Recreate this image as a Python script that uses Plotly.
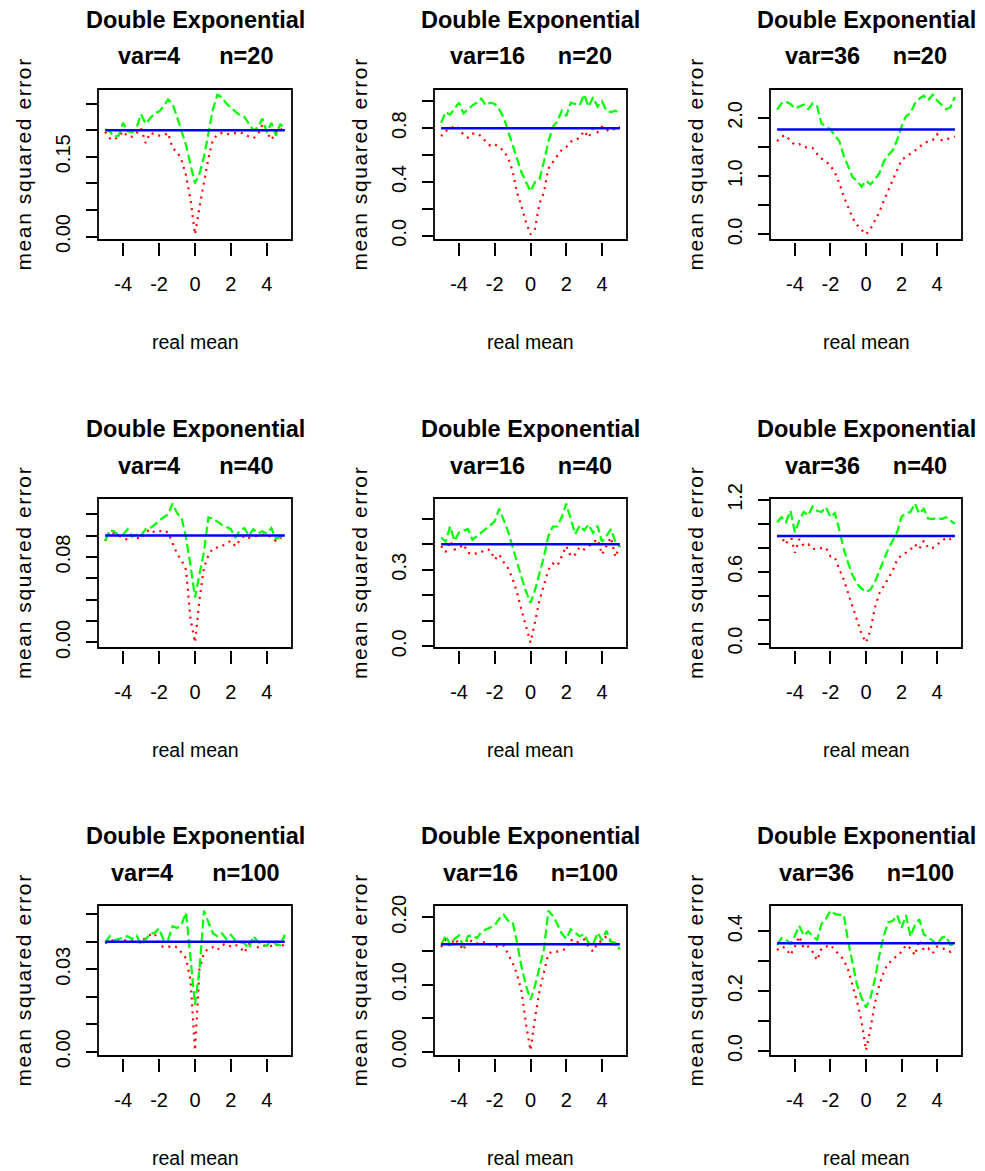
import plotly.graph_objects as go

# ---------------- data ----------------
MEAN_GRID = [-5.0, -4.75, -4.5, -4.25, -4.0, -3.75, -3.5, -3.25, -3.0, -2.75,
             -2.5, -2.25, -2.0, -1.75, -1.5, -1.25, -1.0, -0.75, -0.5, -0.25,
             0.0, 0.25, 0.5, 0.75, 1.0, 1.25, 1.5, 1.75, 2.0, 2.25,
             2.5, 2.75, 3.0, 3.25, 3.5, 3.75, 4.0, 4.25, 4.5, 4.75, 5.0]
VARIANCES = [4, 16, 36]
SAMPLE_SIZES = [20, 40, 100]
X_TICKS = [-4, -2, 0, 2, 4]
X_TICK_LABELS = ["-4", "-2", "0", "2", "4"]

green_v4_n20 = [.202, .198, .188, .190, .214, .198, .196, .205, .230, .212, .222, .232, .235, .245, .258, .250, .225, .200, .172, .135,
                .100, .118, .150, .195, .240, .267, .262, .250, .242, .235, .228, .225, .212, .200, .205, .222, .196, .214, .190, .212, .200]
red_v4_n20 = [.197, .185, .182, .188, .198, .188, .188, .195, .204, .176, .195, .192, .190, .190, .195, .166, .160, .144, .115, .070,
              .004, .055, .100, .148, .182, .192, .195, .193, .192, .195, .196, .193, .188, .185, .192, .210, .195, .182, .196, .204, .195]

green_v16_n20 = [.84, .92, .90, .95, .99, .91, .94, .97, .99, 1.02, .97, .99, .98, .94, .88, .78, .68, .57, .47, .40,
                 .33, .40, .42, .55, .70, .81, .85, .93, .89, .99, .98, .97, 1.05, .96, 1.03, .96, 1.00, .93, .92, .93, .91]
red_v16_n20 = [.74, .78, .79, .82, .80, .75, .73, .76, .76, .74, .70, .67, .68, .66, .63, .58, .48, .32, .22, .10,
               .01, .05, .24, .32, .50, .55, .60, .64, .66, .70, .71, .73, .78, .73, .80, .77, .81, .78, .80, .79, .81]

green_v36_n20 = [2.14, 2.25, 2.28, 2.24, 2.16, 2.20, 2.23, 2.15, 2.25, 2.20, 1.90, 1.86, 1.80, 1.70, 1.60, 1.35, 1.15, .98, .92, .82,
                 .92, .86, .94, 1.05, 1.25, 1.36, 1.44, 1.62, 1.85, 2.03, 2.08, 2.25, 2.33, 2.38, 2.30, 2.40, 2.30, 2.22, 2.15, 2.18, 2.36]
red_v36_n20 = [1.60, 1.68, 1.70, 1.60, 1.54, 1.55, 1.50, 1.49, 1.48, 1.38, 1.30, 1.25, 1.18, 1.06, .88, .65, .45, .28, .16, .07,
               .00, .09, .23, .38, .58, .76, .94, 1.10, 1.28, 1.33, 1.38, 1.44, 1.50, 1.56, 1.60, 1.62, 1.72, 1.62, 1.62, 1.66, 1.68]

green_v4_n40 = [.095, .105, .104, .100, .101, .106, .099, .101, .100, .106, .107, .110, .114, .117, .120, .130, .121, .117, .098, .072,
                .042, .064, .085, .117, .116, .113, .110, .108, .106, .098, .105, .107, .100, .106, .102, .104, .102, .107, .097, .099, .101]
red_v4_n40 = [.095, .104, .102, .100, .098, .096, .100, .098, .097, .103, .106, .103, .104, .105, .103, .093, .083, .077, .068, .022,
              .000, .040, .070, .082, .088, .089, .090, .093, .095, .090, .096, .100, .098, .099, .100, .101, .100, .099, .095, .098, .099]

green_v16_n40 = [.427, .410, .470, .413, .447, .455, .460, .418, .433, .445, .460, .478, .490, .540, .493, .450, .390, .325, .270, .215,
                 .170, .220, .285, .350, .433, .470, .470, .507, .560, .495, .440, .473, .455, .478, .445, .473, .410, .433, .460, .410, .390]
red_v16_n40 = [.393, .370, .413, .380, .385, .400, .367, .360, .365, .370, .380, .378, .340, .360, .330, .305, .265, .210, .140, .075,
               .015, .095, .180, .240, .300, .325, .316, .353, .393, .353, .360, .390, .380, .393, .405, .420, .360, .393, .427, .350, .395]

green_v36_n40 = [1.014, 1.056, 1.014, 1.110, .930, 1.030, 1.100, 1.070, 1.146, 1.110, 1.100, 1.140, 1.056, 1.090, .950, .790, .670, .570, .500, .460,
                 .430, .450, .515, .600, .700, .790, .860, .930, 1.060, 1.090, 1.100, 1.170, 1.085, 1.127, 1.045, 1.040, 1.050, 1.040, 1.056, 1.030, 1.000]
red_v36_n40 = [.900, .887, .830, .915, .760, .873, .817, .830, .790, .795, .800, .800, .730, .720, .620, .535, .420, .300, .200, .080,
               .010, .110, .300, .420, .480, .540, .610, .700, .740, .760, .785, .830, .790, .860, .800, .800, .830, .850, .887, .873, .893]

green_v4_n100 = [.0396, .0420, .0405, .0410, .0415, .0420, .0410, .0422, .0388, .0410, .0428, .0432, .0448, .0406, .0406, .0456, .0450, .0462, .0506, .0340,
                 .0170, .0300, .0513, .0470, .0430, .0420, .0430, .0410, .0425, .0405, .0398, .0394, .0375, .0420, .0400, .0388, .0385, .0406, .0390, .0388, .0425]
red_v4_n100 = [.0396, .0396, .0409, .0400, .0405, .0405, .0408, .0400, .0398, .0415, .0425, .0430, .0390, .0380, .0381, .0385, .0380, .0362, .0340, .0260,
               .0005, .0300, .0360, .0375, .0380, .0370, .0388, .0392, .0382, .0388, .0381, .0360, .0392, .0405, .0380, .0388, .0382, .0385, .0392, .0380, .0392]

green_v16_n100 = [.159, .173, .159, .168, .173, .156, .172, .173, .169, .178, .182, .185, .188, .198, .204, .195, .193, .162, .126, .098,
                  .077, .098, .124, .152, .210, .202, .190, .176, .168, .182, .177, .172, .175, .162, .159, .177, .166, .180, .164, .162, .152]
red_v16_n100 = [.156, .167, .157, .168, .161, .151, .169, .163, .161, .164, .162, .160, .156, .158, .158, .144, .132, .115, .090, .041,
                .002, .050, .090, .118, .146, .149, .149, .151, .153, .167, .162, .164, .167, .156, .149, .162, .165, .172, .164, .160, .154]

green_v36_n100 = [.354, .377, .372, .358, .385, .418, .385, .400, .383, .372, .425, .442, .469, .458, .455, .455, .365, .290, .220, .178,
                  .145, .178, .240, .320, .385, .430, .434, .454, .411, .454, .383, .420, .440, .390, .380, .368, .354, .378, .383, .354, .354]
red_v36_n100 = [.337, .349, .343, .320, .349, .383, .343, .349, .331, .303, .343, .349, .354, .337, .320, .305, .270, .215, .165, .100,
                .002, .074, .160, .220, .265, .293, .303, .320, .331, .354, .343, .320, .371, .337, .343, .326, .349, .343, .340, .331, .343]

Y_TICKS = {
    (4, 20): ([0, .05, .10, .15, .20, .25], ["0.00", "", "", "0.15", "", ""]),
    (16, 20): ([0, .2, .4, .6, .8, 1.0], ["0.0", "", "0.4", "", "0.8", ""]),
    (36, 20): ([0, .5, 1.0, 1.5, 2.0], ["0.0", "", "1.0", "", "2.0"]),
    (4, 40): ([0, .02, .04, .06, .08, .10, .12], ["0.00", "", "", "", "0.08", "", ""]),
    (16, 40): ([0, .1, .2, .3, .4, .5], ["0.0", "", "", "0.3", "", ""]),
    (36, 40): ([0, .2, .4, .6, .8, 1.0, 1.2], ["0.0", "", "", "0.6", "", "", "1.2"]),
    (4, 100): ([0, .01, .02, .03, .04, .05], ["0.00", "", "", "0.03", "", ""]),
    (16, 100): ([0, .05, .10, .15, .20], ["0.00", "", "0.10", "", "0.20"]),
    (36, 100): ([0, .1, .2, .3, .4], ["0.0", "", "0.2", "", "0.4"]),
}

SERIES = {
    (4, 20): (green_v4_n20, red_v4_n20), (16, 20): (green_v16_n20, red_v16_n20), (36, 20): (green_v36_n20, red_v36_n20),
    (4, 40): (green_v4_n40, red_v4_n40), (16, 40): (green_v16_n40, red_v16_n40), (36, 40): (green_v36_n40, red_v36_n40),
    (4, 100): (green_v4_n100, red_v4_n100), (16, 100): (green_v16_n100, red_v16_n100), (36, 100): (green_v36_n100, red_v36_n100),
}

# ---------------- layout geometry (pixels) ----------------
W, H = 985, 1171
COL_LEFT = [98, 434, 770]
COL_RIGHT = [292, 627, 962]
ROW_TOP = [89, 498, 905]
ROW_BOTTOM = [240, 648, 1056]
FONT = "Liberation Sans, Arial, Helvetica, sans-serif"


def fx(p):
    return p / W


def fy(p):
    return 1 - p / H


def padded(vals):
    lo, hi = min(vals), max(vals)
    s = hi - lo
    return [lo - 0.04 * s, hi + 0.04 * s]


fig = go.Figure()
layout = {}
annotations = []
shapes = []

k = 0
for r, n in enumerate(SAMPLE_SIZES):
    for c, v in enumerate(VARIANCES):
        k += 1
        xa = "x" if k == 1 else f"x{k}"
        ya = "y" if k == 1 else f"y{k}"
        green, red = SERIES[(v, n)]
        ref = v / n
        fig.add_trace(go.Scatter(x=MEAN_GRID, y=red, xaxis=xa, yaxis=ya, mode="lines",
                                 line=dict(color="#FF0000", width=2.2, dash="2px,5px"),
                                 showlegend=False, hoverinfo="skip"))
        fig.add_trace(go.Scatter(x=MEAN_GRID, y=green, xaxis=xa, yaxis=ya, mode="lines",
                                 line=dict(color="#00FF00", width=2.2, dash="9px,4px"),
                                 showlegend=False, hoverinfo="skip"))
        fig.add_trace(go.Scatter(x=[MEAN_GRID[0], MEAN_GRID[-1]], y=[ref, ref], xaxis=xa, yaxis=ya,
                                 mode="lines", line=dict(color="#0000FF", width=2.5),
                                 showlegend=False, hoverinfo="skip"))

        L, R_, T, B = COL_LEFT[c], COL_RIGHT[c], ROW_TOP[r], ROW_BOTTOM[r]
        yt, ytl = Y_TICKS[(v, n)]
        layout["xaxis" + ("" if k == 1 else str(k))] = dict(
            domain=[fx(L), fx(R_)], anchor="free", position=fy(B + 1.5),
            range=padded(MEAN_GRID), tickvals=X_TICKS, ticktext=X_TICK_LABELS,
            ticks="outside", ticklen=13, tickwidth=1.5, tickcolor="black",
            showline=False, showgrid=False, zeroline=False, automargin=False,
            tickfont=dict(family=FONT, size=20, color="black"), ticklabelstandoff=11,
            fixedrange=True)
        layout["yaxis" + ("" if k == 1 else str(k))] = dict(
            domain=[fy(B), fy(T)], anchor=xa, range=padded(green + red + [ref]),
            tickvals=yt, ticktext=ytl, tickangle=-90,
            ticks="outside", ticklen=11, tickwidth=1.5, tickcolor="black",
            showline=False, showgrid=False, zeroline=False, automargin=False,
            tickfont=dict(family=FONT, size=20, color="black"), ticklabelstandoff=8,
            fixedrange=True)
        shapes.append(dict(type="rect", xref=f"{xa} domain", yref=f"{ya} domain",
                           x0=0, x1=1, y0=0, y1=1, line=dict(color="black", width=1.8),
                           fillcolor="rgba(0,0,0,0)", layer="above"))
        cx = fx((L + R_) / 2)
        gap = "\u00a0" * (6 if v < 10 else 5)
        annotations.append(dict(text="<b>Double Exponential</b>", x=cx, y=fy(T - 69),
                                xref="paper", yref="paper", xanchor="center", yanchor="middle",
                                showarrow=False, font=dict(family=FONT, size=23.5, color="black")))
        annotations.append(dict(text=f"<b>var={v}{gap}n={n}</b>", x=cx, y=fy(T - 32.5),
                                xref="paper", yref="paper", xanchor="center", yanchor="middle",
                                showarrow=False, font=dict(family=FONT, size=23.5, color="black")))
        annotations.append(dict(text="real mean", x=cx, y=fy(B + 102),
                                xref="paper", yref="paper", xanchor="center", yanchor="middle",
                                showarrow=False, font=dict(family=FONT, size=19.5, color="black")))
        annotations.append(dict(text='<span style="letter-spacing:1.6px">mean squared error</span>',
                                x=fx(L - 75), y=fy((T + B) / 2), textangle=-90,
                                xref="paper", yref="paper", xanchor="center", yanchor="middle",
                                showarrow=False, font=dict(family=FONT, size=21, color="black")))

fig.update_layout(width=W, height=H, margin=dict(l=0, r=0, t=0, b=0, pad=0, autoexpand=False),
                  autosize=False, paper_bgcolor="white", plot_bgcolor="white",
                  annotations=annotations, shapes=shapes, **layout)

fig.write_html("out.html", config={"responsive": False, "displayModeBar": False},
               post_script="document.body.style.margin='0';")
